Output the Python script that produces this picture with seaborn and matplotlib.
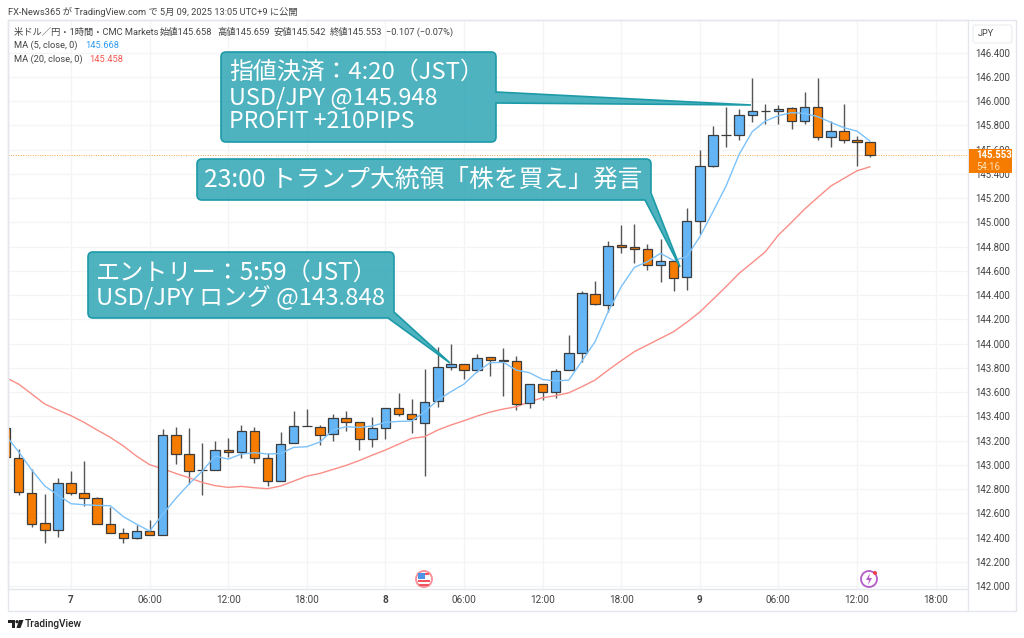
import matplotlib
matplotlib.use('Agg')
import matplotlib.pyplot as plt
import pandas as pd
import seaborn as sns
from matplotlib.patches import Circle, PathPatch, Polygon, Rectangle, FancyBboxPatch
from matplotlib.path import Path

# Chart values (hour 0 = May 7 00:00)
hours = list(range(-5, 62))
opens = [143.300, 143.059, 142.770, 142.517, 142.459, 142.852, 142.770, 142.726, 142.509, 142.440,
         142.396, 142.451, 142.421, 143.243, 143.089, 142.957, 142.957, 143.122, 143.102, 143.278,
         143.059, 142.869, 143.177, 143.320, 143.309, 143.251, 143.388, 143.355, 143.210, 143.300,
         143.471, 143.416, 143.344, 143.523, 143.809, 143.828, 143.784, 143.886, 143.867, 143.853,
         143.509, 143.669, 143.597, 143.779, 143.924, 144.405, 144.315, 144.810, 144.793, 144.777,
         144.645, 144.678, 144.546, 145.010, 145.467, 145.722, 145.717, 145.882, 145.915, 145.915,
         145.939, 145.832, 145.953, 145.703, 145.755, 145.675, 145.658]
highs = [143.310, 143.127, 142.962, 142.756, 142.894, 142.948, 143.034, 142.737, 142.654, 142.476,
         142.503, 142.544, 143.292, 143.309, 143.300, 143.177, 143.193, 143.218, 143.328, 143.309,
         143.094, 143.273, 143.443, 143.457, 143.328, 143.416, 143.446, 143.355, 143.391, 143.471,
         143.589, 143.545, 143.787, 143.974, 143.996, 143.828, 143.913, 143.886, 143.960, 143.900,
         143.669, 143.669, 143.787, 144.070, 144.433, 144.518, 144.848, 144.977, 144.985, 144.818,
         144.862, 144.678, 145.120, 145.596, 145.794, 145.948, 145.934, 146.187, 145.975, 145.967,
         145.948, 146.077, 146.187, 145.835, 145.975, 145.711, 145.659]
lows = [143.060, 142.751, 142.489, 142.357, 142.407, 142.751, 142.663, 142.511, 142.434, 142.357,
        142.388, 142.421, 142.421, 143.006, 142.841, 142.751, 142.957, 143.061, 143.053, 143.012,
        142.825, 142.869, 143.177, 143.320, 143.160, 143.196, 143.278, 143.122, 143.144, 143.215,
        143.405, 143.265, 142.907, 143.479, 143.781, 143.704, 143.762, 143.735, 143.570, 143.452,
        143.471, 143.534, 143.553, 143.779, 143.850, 144.315, 144.262, 144.749, 144.667, 144.606,
        144.510, 144.436, 144.438, 144.903, 145.453, 145.623, 145.678, 145.824, 145.810, 145.810,
        145.772, 145.810, 145.675, 145.623, 145.651, 145.464, 145.542]
closes = [143.067, 142.778, 142.511, 142.459, 142.852, 142.770, 142.729, 142.511, 142.440, 142.399,
          142.451, 142.421, 143.243, 143.091, 142.951, 142.957, 143.119, 143.102, 143.278, 143.053,
          142.863, 143.171, 143.317, 143.320, 143.248, 143.388, 143.350, 143.210, 143.306, 143.471,
          143.416, 143.375, 143.515, 143.809, 143.828, 143.784, 143.878, 143.867, 143.853, 143.504,
          143.669, 143.597, 143.776, 143.922, 144.414, 144.323, 144.807, 144.796, 144.782, 144.645,
          144.683, 144.540, 145.010, 145.467, 145.722, 145.722, 145.882, 145.915, 145.915, 145.931,
          145.832, 145.953, 145.700, 145.755, 145.675, 145.662, 145.553]
ma5 = [143.245, 143.108, 142.957, 142.825, 142.751, 142.679, 142.671, 142.665, 142.663, 142.572,
       142.511, 142.454, 142.591, 142.723, 142.841, 142.946, 143.072, 143.047, 143.089, 143.100,
       143.089, 143.094, 143.144, 143.149, 143.188, 143.287, 143.314, 143.309, 143.320, 143.350,
       143.358, 143.361, 143.438, 143.534, 143.603, 143.666, 143.768, 143.842, 143.845, 143.781,
       143.759, 143.704, 143.691, 143.699, 143.856, 144.015, 144.262, 144.469, 144.628, 144.675,
       144.744, 144.685, 144.716, 144.881, 145.087, 145.299, 145.560, 145.747, 145.835, 145.879,
       145.904, 145.898, 145.871, 145.824, 145.780, 145.752, 145.668]
ma20 = [143.720, 143.666, 143.584, 143.501, 143.452, 143.405, 143.350, 143.287, 143.226, 143.155,
        143.072, 143.001, 142.968, 142.929, 142.894, 142.855, 142.828, 142.814, 142.822, 142.811,
        142.803, 142.825, 142.866, 142.907, 142.929, 142.962, 142.995, 143.035, 143.080, 143.122,
        143.170, 143.218, 143.232, 143.287, 143.328, 143.364, 143.402, 143.435, 143.460, 143.479,
        143.520, 143.553, 143.570, 143.594, 143.644, 143.699, 143.781, 143.858, 143.933, 143.988,
        144.043, 144.098, 144.175, 144.260, 144.364, 144.469, 144.579, 144.667, 144.757, 144.895,
        145.000, 145.109, 145.205, 145.299, 145.362, 145.425, 145.458]

price_ticks = [142.0, 142.2, 142.4, 142.6, 142.8, 143.0, 143.2, 143.4, 143.6, 143.8, 144.0, 144.2,
               144.4, 144.6, 144.8, 145.0, 145.2, 145.4, 145.6, 145.8, 146.0, 146.2, 146.4]
time_ticks = [0, 6, 12, 18, 24, 30, 36, 42, 48, 54, 60, 66]
time_labels = ['7', '06:00', '12:00', '18:00', '8', '06:00', '12:00', '18:00', '9', '06:00', '12:00', '18:00']
last_price = 145.553

df = pd.DataFrame({'hour': hours, 'open': opens, 'high': highs, 'low': lows, 'close': closes,
                   'ma5': ma5, 'ma20': ma20})

BLUE = '#64B5F6'
ORANGE = '#F57C00'
GRID = '#F3F4F6'
FRAME = '#E4E6EC'
TEAL_FILL = '#2FA6B4'
TEAL_EDGE = '#1C9AA8'
TEXT = '#444444'

sns.set_theme(style='white')
FONTS = ['Roboto', 'Noto Sans CJK JP', 'DejaVu Sans']
plt.rcParams['font.family'] = FONTS

W, H = 1024, 638
fig = plt.figure(figsize=(W / 100, H / 100), dpi=100, facecolor='white')
ax = fig.add_axes([8 / W, 1 - 589 / H, 960 / W, 569 / H])

# grid first
ax.set_axisbelow(True)
ax.grid(True, color=GRID, lw=0.9)

# candles
up = df['close'] >= df['open']
ax.vlines(df['hour'], df['low'], df['high'], color='#555555', lw=1.0, zorder=2)
body_bottom = df[['open', 'close']].min(axis=1)
body_height = (df['close'] - df['open']).abs()
for mask, colour in [(up, BLUE), (~up, ORANGE)]:
    ax.bar(df['hour'][mask], body_height[mask], bottom=body_bottom[mask], width=0.72,
           color=colour, edgecolor='#3C3C3C', lw=0.9, zorder=3)

# moving averages
sns.lineplot(data=df, x='hour', y='ma5', ax=ax, color='#7CC2FA', lw=1.0, errorbar=None, zorder=4)
sns.lineplot(data=df, x='hour', y='ma20', ax=ax, color='#FA8E87', lw=1.0, errorbar=None, zorder=2.5)

ax.axhline(last_price, color=ORANGE, lw=0.7, ls=(0, (1, 1.5)), alpha=0.7, zorder=1)

ax.set_xlim(-4.81, 68.47)
ax.set_ylim(141.976, 146.668)
ax.set_xlabel('')
ax.set_ylabel('')
ax.yaxis.tick_right()
ax.set_yticks(price_ticks)
ax.set_yticklabels([f'{p:.3f}' for p in price_ticks], fontsize=6.9, color=TEXT)
ax.set_xticks(time_ticks)
ax.set_xticklabels(time_labels, fontsize=7.2, color=TEXT)
for lab in ax.get_xticklabels():
    if ':' not in lab.get_text():
        lab.set_fontweight('bold')
ax.tick_params(axis='y', length=0, pad=5.5)
ax.tick_params(axis='x', length=0, pad=4)
for s in ax.spines.values():
    s.set_color(FRAME)
    s.set_linewidth(1.0)

# overlay in picture pixels, for everything that is not price data
ov = fig.add_axes([0, 0, 1, 1], facecolor='none')
ov.set_xlim(0, W)
ov.set_ylim(H, 0)
ov.axis('off')
ov.add_patch(Rectangle((8, 20), 1008, 591, fill=False, ec=FRAME, lw=1.0))
ov.plot([968, 968], [589, 611], color=FRAME, lw=1.0)


def callout(x0, y0, x1, y1, tail, round_br=True, r=5):
    """Rounded box with its tail, as one path so that the fill does not double up."""
    verts = [(x0 + r, y0), (x1 - r, y0), (x1, y0), (x1, y0 + r)]
    codes = [Path.MOVETO, Path.LINETO, Path.CURVE3, Path.CURVE3]
    for pt in tail:
        verts.append(pt)
        codes.append(Path.LINETO)
    if round_br:
        verts += [(x1, y1 - r), (x1, y1), (x1 - r, y1)]
        codes += [Path.LINETO, Path.CURVE3, Path.CURVE3]
    verts += [(x0 + r, y1), (x0, y1), (x0, y1 - r), (x0, y0 + r), (x0, y0), (x0 + r, y0), (x0 + r, y0)]
    codes += [Path.LINETO, Path.CURVE3, Path.CURVE3, Path.LINETO, Path.CURVE3, Path.CURVE3, Path.CLOSEPOLY]
    ov.add_patch(PathPatch(Path(verts, codes), fc=TEAL_FILL, ec='none', alpha=0.85, zorder=6))
    ov.add_patch(PathPatch(Path(verts, codes), fc='none', ec=TEAL_EDGE, lw=1.2, zorder=6))


callout(221, 52, 496, 142, [(496, 92), (751, 105), (496, 103)])
callout(197, 159, 651, 200, [(651, 193), (680, 267), (645, 200)], round_br=False)
callout(88, 252, 394, 318, [(394, 312), (450, 363), (388, 318)], round_br=False)

CJK = ['Noto Sans CJK JP', 'DejaVu Sans']
note = dict(color='white', va='center', ha='left', family=CJK, zorder=7)
ov.text(229, 72, '指値決済：4:20（JST）', fontsize=17.2, **note)
ov.text(229, 98, 'USD/JPY @145.948', fontsize=16.9, **note)
ov.text(229, 122, 'PROFIT +210PIPS', fontsize=16.5, **note)
ov.text(204, 180, '23:00 トランプ大統領「株を買え」発言', fontsize=17.8, **note)
ov.text(96, 273, 'エントリー：5:59（JST）', fontsize=17.4, **note)
ov.text(96, 298, 'USD/JPY ロング @143.848', fontsize=17.2, **note)

# header lines
head = dict(fontsize=6.7, va='center', ha='left', color=TEXT, family=FONTS)
ov.text(8, 12, 'FX-News365 が TradingView.com で 5月 09, 2025 13:05 UTC+9 に公開', **head)
ov.text(14, 32, '米ドル／円・1時間・CMC Markets', **head)
ov.text(160, 32, '始値145.658', **head)
ov.text(217, 32, '高値145.659', **head)
ov.text(273, 32, '安値145.542', **head)
ov.text(330, 32, '終値145.553', **head)
ov.text(386, 32, '−0.107 (−0.07%)', **head)
ov.text(14, 45, 'MA (5, close, 0)', **head)
ov.text(85, 45, '145.668', **{**head, 'color': '#2F9BF0'})
ov.text(14, 59, 'MA (20, close, 0)', **head)
ov.text(89, 59, '145.458', **{**head, 'color': '#F2584F'})

# JPY box
ov.add_patch(FancyBboxPatch((973, 25), 39, 18, boxstyle='round,pad=0,rounding_size=3',
                            fc='white', ec='#ECEEF2', lw=0.9, zorder=5))
ov.text(978, 34, 'JPY', fontsize=6.6, color=TEXT, va='center', ha='left', zorder=6)

# last price tag
ov.add_patch(Rectangle((969, 149), 43, 24, fc=ORANGE, ec='none', zorder=5))
ov.text(976, 155.5, '145.553', fontsize=6.9, color='white', fontweight='bold', va='center', ha='left', zorder=6)
ov.text(976, 166.5, '54:16', fontsize=6.9, color='#FFE0B8', va='center', ha='left', zorder=6)

# event markers
ov.add_patch(Circle((424, 579), 8, fc='white', ec='#F7939A', lw=1.4, zorder=5))
ov.add_patch(Rectangle((419, 573), 10, 2.2, fc='#F0545E', ec='none', zorder=6))
ov.add_patch(Rectangle((418, 580), 12, 2.2, fc='#F0545E', ec='none', zorder=6))
ov.add_patch(Rectangle((419, 584), 10, 1.8, fc='#F0545E', ec='none', zorder=6))
ov.add_patch(Rectangle((418, 573), 6.5, 6, fc='#4D93E8', ec='none', zorder=6))
ov.add_patch(Circle((869, 579), 8, fc='white', ec='#B45CC8', lw=1.3, zorder=5))
ov.add_patch(Polygon([(870, 573), (866, 580), (869, 580), (868, 585), (872, 578), (869, 578)],
                     fc='#B45CC8', ec='none', zorder=6))
ov.add_patch(Circle((875, 573), 2, fc='#F2404A', ec='none', zorder=7))

# TradingView mark
ov.add_patch(Polygon([(8, 620), (15, 620), (15, 628), (11.5, 628), (11.5, 623), (8, 623)], fc='#222222', ec='none'))
ov.add_patch(Circle((17, 621.7), 1.6, fc='#222222', ec='none'))
ov.add_patch(Polygon([(19, 620), (23.5, 620), (20.5, 628), (16.5, 628)], fc='#222222', ec='none'))
ov.text(25, 624, 'TradingView', fontsize=7.3, color='#222222', va='center', ha='left', fontweight='medium')

fig.savefig('out.png', dpi=100)
